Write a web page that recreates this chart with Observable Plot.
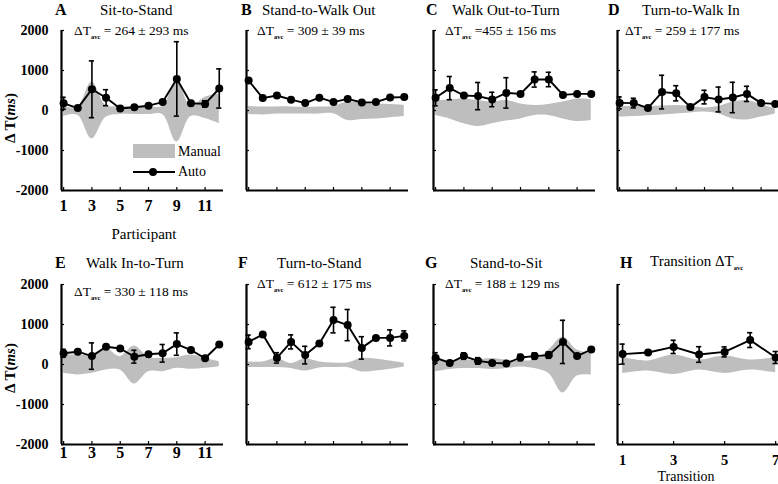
<!DOCTYPE html>
<html><head><meta charset="utf-8">
<script src="https://cdn.jsdelivr.net/npm/d3@7"></script>
<script src="https://cdn.jsdelivr.net/npm/@observablehq/plot@0.6"></script>
<style>
body{margin:0;background:#fff;}
#root{position:relative;width:778px;height:484px;overflow:hidden;background:#fff;font-family:"Liberation Serif","Times New Roman",serif;color:#000;}
#root svg, #root svg text{font-family:"Liberation Serif","Times New Roman",serif !important;}
.t{position:absolute;white-space:nowrap;line-height:1;transform:translateY(-50%);}
.sub{font-size:6.5px;vertical-align:-4px;font-weight:bold;}
.letter{font-weight:bold;font-size:16px;}
.title{font-size:15px;}
.stat{font-size:13.5px;}
</style></head><body><div id="root"></div>
<script>
// ---------- data ----------
const participants = [1,2,3,4,5,6,7,8,9,10,11,12];
const transitions = [1,2,3,4,5,6,7];
const yTicks = [-2000,-1000,0,1000,2000];
const participantTicks = [1,3,5,7,9,11];
const transitionTicks = [1,3,5,7];

const A_auto = [180, 60, 530, 320, 50, 80, 120, 210, 790, 180, 165, 550];
const A_err  = [150, 0, 710, 200, 0, 0, 0, 0, 930, 0, 80, 490];
const A_hi   = [100, 80, 710, 120, 100, 100, 100, 100, 750, 100, 330, 410];
const A_lo   = [-150, -120, -710, -170, -100, -100, -100, -100, -790, -150, -200, -330];

const B_auto = [750, 310, 375, 270, 185, 320, 210, 290, 200, 210, 325, 335];
const B_err  = [20, 20, 20, 20, 20, 20, 20, 20, 20, 20, 20, 20];
const B_hi   = [100, 85, 90, 90, 80, 85, 100, 210, 180, 165, 150, 130];
const B_lo   = [-100, -110, -90, -90, -90, -90, -80, -250, -225, -210, -180, -150];

const C_auto = [317, 560, 375, 360, 275, 440, 415, 775, 775, 390, 415, 415];
const C_err  = [200, 290, 40, 340, 180, 380, 0, 190, 180, 0, 0, 0];
const C_hi   = [250, 265, 290, 250, 210, 250, 165, 125, 150, 210, 290, 265];
const C_lo   = [-125, -210, -330, -400, -330, -265, -210, -125, -125, -210, -275, -250];

const D_auto = [190, 185, 60, 460, 430, 85, 335, 275, 325, 415, 185, 165];
const D_err  = [150, 120, 0, 420, 190, 0, 170, 310, 380, 190, 0, 0];
const D_hi   = [100, 100, 100, 110, 125, 100, 65, 100, 210, 250, 150, 40];
const D_lo   = [-165, -150, -130, -110, -85, -60, -40, -80, -210, -235, -165, -85];

const E_auto = [280, 320, 210, 445, 400, 195, 255, 280, 510, 360, 155, 500];
const E_err  = [100, 0, 330, 0, 0, 160, 0, 220, 280, 0, 0, 0];
const E_hi   = [235, 235, 235, 400, 195, 460, 180, 150, 170, 235, 150, 70];
const E_lo   = [-220, -260, -220, -135, -135, -485, -180, -180, -95, -120, -95, -55];

const F_auto = [565, 750, 165, 565, 235, 525, 1110, 985, 415, 665, 665, 715];
const F_err  = [170, 0, 130, 175, 220, 0, 320, 390, 280, 0, 200, 125];
const F_hi   = [65, 65, 150, 25, 135, 65, 40, 40, 150, 135, 85, 30];
const F_lo   = [-75, -75, -75, -100, -165, -85, -75, -75, -185, -160, -120, -60];

const G_auto = [165, 40, 210, 90, 40, 25, 175, 210, 235, 565, 210, 375];
const G_err  = [130, 0, 80, 80, 0, 0, 80, 80, 80, 540, 0, 0];
const G_hi   = [190, 90, 110, 120, 150, 110, 90, 110, 360, 690, 360, 275];
const G_lo   = [-185, -125, -100, -100, -125, -100, -60, -100, -225, -710, -290, -265];

const H_auto = [260, 300, 440, 250, 315, 610, 175];
const H_err  = [250, 0, 165, 195, 125, 185, 150];
const H_hi   = [175, 90, 235, 110, 210, 110, 175];
const H_lo   = [-225, -160, -250, -140, -225, -140, -210];

const letters = ["A","B","C","D","E","F","G","H"];
const titles = ["Sit-to-Stand","Stand-to-Walk Out","Walk Out-to-Turn","Turn-to-Walk In","Walk In-to-Turn","Turn-to-Stand","Stand-to-Sit","Transition"];
const stats = ["= 264 ± 293 ms","= 309 ± 39 ms","=455 ± 156 ms","= 259 ± 177 ms","= 330 ± 118 ms","= 612 ± 175 ms","= 188 ± 129 ms", null];

const series = [
  {xs:participants, ticks:participantTicks, auto:A_auto, err:A_err, hi:A_hi, lo:A_lo},
  {xs:participants, ticks:participantTicks, auto:B_auto, err:B_err, hi:B_hi, lo:B_lo},
  {xs:participants, ticks:participantTicks, auto:C_auto, err:C_err, hi:C_hi, lo:C_lo},
  {xs:participants, ticks:participantTicks, auto:D_auto, err:D_err, hi:D_hi, lo:D_lo},
  {xs:participants, ticks:participantTicks, auto:E_auto, err:E_err, hi:E_hi, lo:E_lo},
  {xs:participants, ticks:participantTicks, auto:F_auto, err:F_err, hi:F_hi, lo:F_lo},
  {xs:participants, ticks:participantTicks, auto:G_auto, err:G_err, hi:G_hi, lo:G_lo},
  {xs:transitions, ticks:transitionTicks, auto:H_auto, err:H_err, hi:H_hi, lo:H_lo}
];

// ---------- layout ----------
const colAxisX = [61, 246, 433, 617];
const rowTop = [30, 284];
const letterX = [55, 241, 426, 608, 55, 238, 425, 620];
const titleX = [100, 262, 452, 642, 86, 277, 470, 650];
const statX = [74, 257, 445, 625, 74, 257, 445, null];
const statY = [32, 32, 32, 32, 293, 285, 285, null];
const titleY = [10, 263];
const xLabelPad = [9, null, null, null, 2, null, null, 10];
const xLabelSize = [16, 0, 0, 0, 16, 0, 0, 14.5];
const showYLabels = [true, false, false, false, true, false, false, false];

const root = document.getElementById("root");
const GRAY = "#bebebe";
const SERIF = '"Liberation Serif", "Times New Roman", serif';

function addText(html, x, y, cls, extra) {
  const d = document.createElement("div");
  d.className = "t " + (cls || "");
  d.style.left = x + "px";
  d.style.top = y + "px";
  if (extra) Object.assign(d.style, extra);
  d.innerHTML = html;
  root.appendChild(d);
  return d;
}

series.forEach((p, i) => {
  const col = i % 4, row = Math.floor(i / 4);
  const mL = col === 0 ? 61 : 20, mR = 2, mT = 10, mB = 45;
  const W = 162, Hh = 160;
  const dom = p.xs.length === 7 ? [0.8, 7.15] : [0.85, 12.3];
  const capW = (dom[1] - dom[0]) * 2.6 / W;
  const data = p.xs.map((x, k) => ({x, y: p.auto[k], e: p.err[k], hi: p.hi[k], lo: p.lo[k]}));
  const marks = [
    Plot.areaY(data, {x: "x", y1: "lo", y2: "hi", fill: GRAY, curve: "catmull-rom"}),
    Plot.ruleX([dom[0]], {stroke: "#000", strokeWidth: 2.2}),
    Plot.ruleY([-2000], {stroke: "#000", strokeWidth: 2.2}),
    Plot.axisY(yTicks, {tickSize: 3, dx: 3, tickFormat: () => "", label: null, strokeWidth: 1.2}),
    Plot.axisX(p.ticks, {tickSize: 3, dy: -3, tickFormat: () => "", label: null, strokeWidth: 1.2}),
    Plot.ruleX(data, {x: "x", y1: d => d.y - d.e, y2: d => d.y + d.e, stroke: "#000", strokeWidth: 1.6}),
    Plot.ruleY(data, {y: d => d.y + d.e, x1: d => d.x - capW, x2: d => d.x + capW, stroke: "#000", strokeWidth: 1.6}),
    Plot.ruleY(data, {y: d => d.y - d.e, x1: d => d.x - capW, x2: d => d.x + capW, stroke: "#000", strokeWidth: 1.6}),
    Plot.line(data, {x: "x", y: "y", stroke: "#000", strokeWidth: 1.9}),
    Plot.dot(data, {x: "x", y: "y", r: 4, fill: "#000", stroke: null})
  ];
  if (showYLabels[i]) {
    marks.push(Plot.axisY(yTicks, {tickSize: 0, tickPadding: 13, tickFormat: d => String(d), label: null, fontSize: 14}));
  }
  if (xLabelPad[i] != null) {
    marks.push(Plot.axisX(p.ticks, {tickSize: 0, tickPadding: xLabelPad[i], tickFormat: d => String(d), label: null, fontSize: xLabelSize[i]}));
  }
  const svg = Plot.plot({
    width: mL + W + mR, height: mT + Hh + mB,
    marginLeft: mL, marginRight: mR, marginTop: mT, marginBottom: mB,
    x: {domain: dom},
    y: {domain: [-2000, 2000]},
    style: {fontFamily: SERIF, fontWeight: "bold", fontSize: "14px", color: "#000", background: "transparent", overflow: "visible"},
    marks
  });
  svg.setAttribute("font-family", SERIF);
  svg.style.position = "absolute";
  svg.style.left = (colAxisX[col] - mL) + "px";
  svg.style.top = (rowTop[row] - mT) + "px";
  root.appendChild(svg);

  addText(letters[i], letterX[i], titleY[row], "letter");
  if (i === 7) {
    addText(titles[i] + " ΔT<span class='sub'>avc</span>", titleX[i], titleY[row], "title");
  } else {
    addText(titles[i], titleX[i], titleY[row], "title");
    addText("ΔT<span class='sub'>avc</span> " + stats[i], statX[i], statY[i], "stat");
  }
});

// y labels
[118, 368].forEach(y => {
  addText("Δ T(<i>ms</i>)", 10, y, "", {fontWeight: "bold", fontSize: "15px", transform: "translate(-50%,-50%) rotate(-90deg)"});
});
// x labels
addText("Participant", 144, 234, "", {fontSize: "15px", transform: "translate(-50%,-50%)"});
addText("Transition", 686, 477, "", {fontSize: "14px", transform: "translate(-50%,-50%)"});

// legend in panel A
const sw = document.createElement("div");
Object.assign(sw.style, {position: "absolute", left: "133px", top: "144px", width: "42px", height: "14px", background: GRAY});
root.appendChild(sw);
addText("Manual", 178, 152, "", {fontSize: "14px"});
const ln = document.createElement("div");
Object.assign(ln.style, {position: "absolute", left: "133px", top: "171px", width: "42px", height: "2px", background: "#000"});
root.appendChild(ln);
const dt = document.createElement("div");
Object.assign(dt.style, {position: "absolute", left: "149px", top: "168px", width: "8px", height: "8px", borderRadius: "50%", background: "#000"});
root.appendChild(dt);
addText("Auto", 178, 172, "", {fontSize: "14px"});
</script></body></html>
